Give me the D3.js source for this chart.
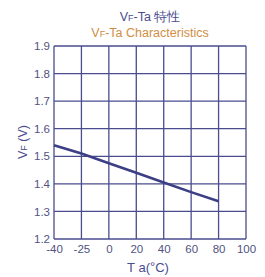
<!DOCTYPE html>
<html>
<head>
<meta charset="utf-8">
<script src="https://cdn.jsdelivr.net/npm/d3@7"></script>
<style>
  body { margin: 0; background: #fff; }
  text { font-family: "Liberation Sans", Arial, sans-serif; }
</style>
</head>
<body>
<svg id="chart"></svg>
<script>
// Data
var temps = [-40, -25, 0, 20, 40, 60, 80, 100];   // x ticks (evenly spaced)
var lineTemps = [-40, -25, 0, 20, 40, 60, 80];
var vf = [1.54, 1.51, 1.475, 1.44, 1.405, 1.37, 1.337];
var vfTicks = [1.2, 1.3, 1.4, 1.5, 1.6, 1.7, 1.8, 1.9];

var width = 265, height = 277;
var margin = {top: 46, left: 54, right: 19, bottom: 38};

var navy = '#4a4c8e', lineCol = '#3c3e86', tickCol = '#50537f', orange = '#d08e45';

var svg = d3.select('#chart').attr('width', width).attr('height', height);

var x = d3.scalePoint()
    .domain(temps)
    .range([margin.left, width - margin.right]);
var y = d3.scaleLinear()
    .domain([1.2, 1.9])
    .range([height - margin.bottom, margin.top]);

// Grid
svg.append('g').selectAll('line.v')
    .data(temps)
    .enter().append('line')
    .attr('x1', function (d) { return x(d); })
    .attr('x2', function (d) { return x(d); })
    .attr('y1', y(1.2)).attr('y2', y(1.9))
    .attr('stroke', navy).attr('stroke-width', 1.3);
svg.append('g').selectAll('line.h')
    .data(vfTicks)
    .enter().append('line')
    .attr('x1', x(-40)).attr('x2', x(100))
    .attr('y1', function (d) { return y(d); })
    .attr('y2', function (d) { return y(d); })
    .attr('stroke', navy).attr('stroke-width', 1.3);

// Axes labels via d3 axes (no domain/ticks drawn)
var xAxis = svg.append('g')
    .attr('transform', 'translate(0,' + (height - margin.bottom) + ')')
    .call(d3.axisBottom(x).tickSize(0).tickPadding(6));
var yAxis = svg.append('g')
    .attr('transform', 'translate(' + margin.left + ',0)')
    .call(d3.axisLeft(y).tickValues(vfTicks).tickFormat(d3.format('.1f')).tickSize(0).tickPadding(4));
[xAxis, yAxis].forEach(function (a) {
    a.select('.domain').remove();
    a.selectAll('text').attr('fill', tickCol).style('font-size', '11.5px')
        .style('font-family', '"Liberation Sans", Arial, sans-serif');
});

// Data line
var line = d3.line()
    .x(function (d, i) { return x(lineTemps[i]); })
    .y(function (d) { return y(d); });
svg.append('path')
    .datum(vf)
    .attr('d', line)
    .attr('fill', 'none')
    .attr('stroke', lineCol)
    .attr('stroke-width', 2.6);

// Titles
var cx = (x(-40) + x(100)) / 2;
var t1 = svg.append('text').attr('x', cx).attr('y', 21)
    .attr('text-anchor', 'middle').attr('fill', navy).style('font-size', '12.5px');
t1.append('tspan').text('V');
t1.append('tspan').text('F').style('font-size', '9px');
t1.append('tspan').text('-Ta 特性');

var t2 = svg.append('text').attr('x', cx).attr('y', 37)
    .attr('text-anchor', 'middle').attr('fill', orange).style('font-size', '12.5px');
t2.append('tspan').text('V');
t2.append('tspan').text('F').style('font-size', '9px');
t2.append('tspan').text('-Ta Characteristics');

// Y axis title
var yl = svg.append('text')
    .attr('transform', 'translate(27,' + 142 + ') rotate(-90)')
    .attr('text-anchor', 'middle').attr('fill', navy).style('font-size', '12.5px');
yl.append('tspan').text('V');
yl.append('tspan').text('F').style('font-size', '9px');
yl.append('tspan').text(' (V)');

// X axis title
var xl = svg.append('text').attr('x', 148).attr('y', 272)
    .attr('text-anchor', 'middle').attr('fill', navy).style('font-size', '13px');
xl.append('tspan').text('T a(');
xl.append('tspan').text('°').attr('dy', -1);
xl.append('tspan').text('C)').attr('dy', 1);
</script>
</body>
</html>
